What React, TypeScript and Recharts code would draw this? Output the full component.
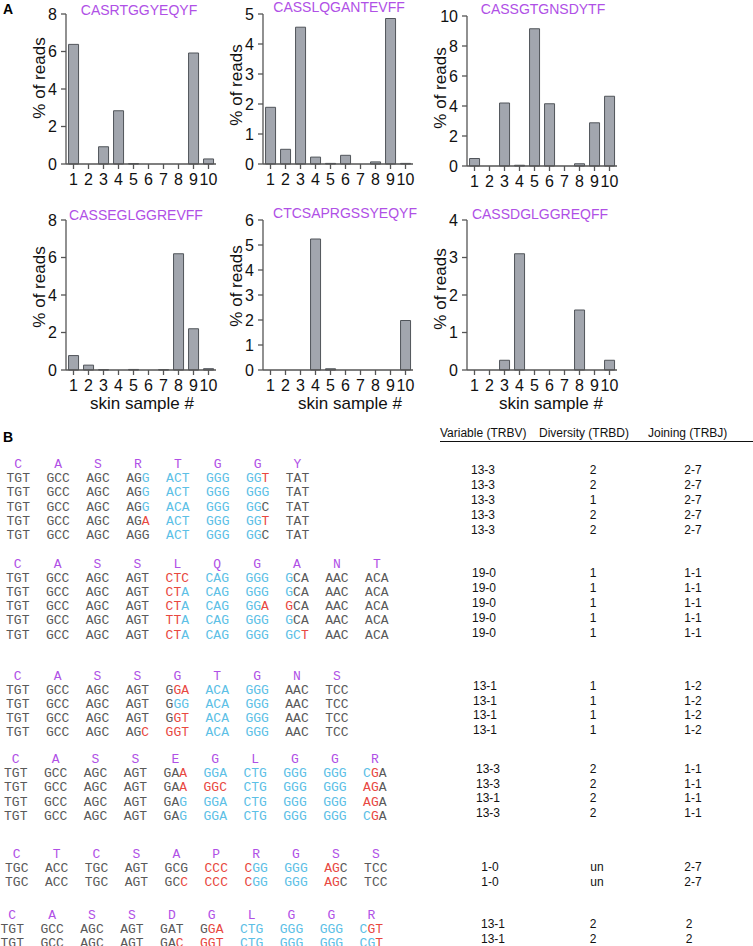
import React from 'react';
import { BarChart, Bar, XAxis, YAxis } from 'recharts';

// skin samples (x categories)
const SAMPLES = ['1', '2', '3', '4', '5', '6', '7', '8', '9', '10'];

// % of reads per skin sample, one array per clonotype
const CASRTGGYEQYF = [6.38, 0, 0.92, 2.84, 0.02, 0, 0, 0, 5.92, 0.27];
const CASSLQGANTEVFF = [1.89, 0.49, 4.56, 0.23, 0.02, 0.29, 0, 0.07, 4.85, 0.02];
const CASSGTGNSDYTF = [0.5, 0, 4.2, 0.05, 9.15, 4.15, 0, 0.15, 2.88, 4.65];
const CASSEGLGGREVFF = [0.77, 0.26, 0.02, 0, 0.03, 0, 0.02, 6.2, 2.2, 0.07];
const CTCSAPRGSSYEQYF = [0, 0, 0, 5.24, 0.05, 0, 0, 0, 0, 1.98];
const CASSDGLGGREQFF = [0, 0, 0.26, 3.1, 0, 0, 0, 1.6, 0, 0.26];

// section B: amino acids, codons and colour marks (k grey, b blue, r red)
const G1_AA = ['C', 'A', 'S', 'R', 'T', 'G', 'G', 'Y'];
const G1_ROWS = [
  ['TGT GCC AGC AGG ACT GGG GGT TAT', 'kkk kkk kkk kkb bbb bbb bbr kkk'],
  ['TGT GCC AGC AGG ACT GGG GGG TAT', 'kkk kkk kkk kkb bbb bbb bbb kkk'],
  ['TGT GCC AGC AGG ACA GGG GGC TAT', 'kkk kkk kkk kkb bbb bbb bbk kkk'],
  ['TGT GCC AGC AGA ACT GGG GGT TAT', 'kkk kkk kkk kkr bbb bbb bbr kkk'],
  ['TGT GCC AGC AGG ACT GGG GGC TAT', 'kkk kkk kkk kkk bbb bbb bbk kkk'],
];
const G2_AA = ['C', 'A', 'S', 'S', 'L', 'Q', 'G', 'A', 'N', 'T'];
const G2_ROWS = [
  ['TGT GCC AGC AGT CTC CAG GGG GCA AAC ACA', 'kkk kkk kkk kkk rrr bbb bbb bkk kkk kkk'],
  ['TGT GCC AGC AGT CTA CAG GGG GCA AAC ACA', 'kkk kkk kkk kkk rrb bbb bbb bkk kkk kkk'],
  ['TGT GCC AGC AGT CTA CAG GGA GCA AAC ACA', 'kkk kkk kkk kkk rrb bbb bbr rkk kkk kkk'],
  ['TGT GCC AGC AGT TTA CAG GGG GCA AAC ACA', 'kkk kkk kkk kkk rrb bbb bbb bkk kkk kkk'],
  ['TGT GCC AGC AGT CTA CAG GGG GCT AAC ACA', 'kkk kkk kkk kkk rrb bbb bbb bbr kkk kkk'],
];
const G3_AA = ['C', 'A', 'S', 'S', 'G', 'T', 'G', 'N', 'S'];
const G3_ROWS = [
  ['TGT GCC AGC AGT GGA ACA GGG AAC TCC', 'kkk kkk kkk kkk krr bbb bbb kkk kkk'],
  ['TGT GCC AGC AGT GGG ACA GGG AAC TCC', 'kkk kkk kkk kkk kbb bbb bbb kkk kkk'],
  ['TGT GCC AGC AGT GGT ACA GGG AAC TCC', 'kkk kkk kkk kkk krr bbb bbb kkk kkk'],
  ['TGT GCC AGC AGC GGT ACA GGG AAC TCC', 'kkk kkk kkk kkr rrr bbb bbb kkk kkk'],
];
const G4_AA = ['C', 'A', 'S', 'S', 'E', 'G', 'L', 'G', 'G', 'R'];
const G4_ROWS = [
  ['TGT GCC AGC AGT GAA GGA CTG GGG GGG CGA', 'kkk kkk kkk kkk kkr bbb bbb bbb bbb brk'],
  ['TGT GCC AGC AGT GAA GGC CTG GGG GGG AGA', 'kkk kkk kkk kkk kkr rrr bbb bbb bbb rrk'],
  ['TGT GCC AGC AGT GAG GGA CTG GGG GGG AGA', 'kkk kkk kkk kkk kkb bbb bbb bbb bbb rrk'],
  ['TGT GCC AGC AGT GAG GGA CTG GGG GGG CGA', 'kkk kkk kkk kkk kkb bbb bbb bbb bbb brk'],
];
const G5_AA = ['C', 'T', 'C', 'S', 'A', 'P', 'R', 'G', 'S', 'S'];
const G5_ROWS = [
  ['TGC ACC TGC AGT GCG CCC CGG GGG AGC TCC', 'kkk kkk kkk kkk kkk rrr rbb bbb rrk kkk'],
  ['TGC ACC TGC AGT GCC CCC CGG GGG AGC TCC', 'kkk kkk kkk kkk kkr rrr rbb bbb rrk kkk'],
];
const G6_AA = ['C', 'A', 'S', 'S', 'D', 'G', 'L', 'G', 'G', 'R'];
const G6_ROWS = [
  ['TGT GCC AGC AGT GAT GGA CTG GGG GGG CGT', 'kkk kkk kkk kkk kkk krr bbb bbb bbb brr'],
  ['TGT GCC AGC AGT GAC GGT CTG GGG GGG CGT', 'kkk kkk kkk kkk kkr rrr bbb bbb bbb bbr'],
];

// V / D / J gene usage per row
const G1_VDJ = [['13-3', '2', '2-7'], ['13-3', '2', '2-7'], ['13-3', '1', '2-7'], ['13-3', '2', '2-7'], ['13-3', '2', '2-7']];
const G2_VDJ = [['19-0', '1', '1-1'], ['19-0', '1', '1-1'], ['19-0', '1', '1-1'], ['19-0', '1', '1-1'], ['19-0', '1', '1-1']];
const G3_VDJ = [['13-1', '1', '1-2'], ['13-1', '1', '1-2'], ['13-1', '1', '1-2'], ['13-1', '1', '1-2']];
const G4_VDJ = [['13-3', '2', '1-1'], ['13-3', '2', '1-1'], ['13-1', '2', '1-1'], ['13-3', '2', '1-1']];
const G5_VDJ = [['1-0', 'un', '2-7'], ['1-0', 'un', '2-7']];
const G6_VDJ = [['13-1', '2', '2'], ['13-1', '2', '2']];

const SANS = '"Liberation Sans", Arial, sans-serif';
const MONO = '"Liberation Mono", "Courier New", monospace';
const PURPLE = '#b050e6';
const COLORS: Record<string, string> = { k: '#595959', b: '#5cc0e6', r: '#e8483f' };

const BAR_FILL = '#a2a6ae';
const BAR_STROKE = '#50545a';
const AXIS = '#555';

function ReadsChart({ values, ymax, ticks, left, top, labelDy, xLabelDx }: any) {
  const data = SAMPLES.map((s, i) => ({ s, v: values[i] }));
  return (
    <div style={{ position: 'absolute', left: left - 60, top: top - 20 }}>
      <BarChart width={220} height={220} data={data} margin={{ top: 20, right: 10, left: 8, bottom: 20 }} barCategoryGap="17%">
        <XAxis
          dataKey="s"
          interval={0}
          height={30}
          tickSize={5}
          tickMargin={5}
          tick={{ fontSize: 16, fill: '#111', fontFamily: SANS }}
          stroke={AXIS}
          strokeWidth={1.3}
          label={
            xLabelDx === undefined
              ? undefined
              : {
                  content: (p: any) => {
                    const vb = p.viewBox;
                    return (
                      <text x={vb.x + vb.width / 2 + xLabelDx} y={vb.y + 39} textAnchor="middle" fontSize={17} fontFamily={SANS} fill="#111">
                        skin sample #
                      </text>
                    );
                  },
                }
          }
        />
        <YAxis
          type="number"
          domain={[0, ymax]}
          ticks={ticks}
          interval={0}
          width={52}
          tickSize={5}
          tickMargin={4}
          tick={{ fontSize: 16, fill: '#111', fontFamily: SANS }}
          stroke={AXIS}
          strokeWidth={1.3}
          label={{
            content: (p: any) => {
              const vb = p.viewBox;
              const cx = vb.x + vb.width - 27;
              const cy = vb.y + vb.height / 2 + labelDy;
              return (
                <text x={cx} y={cy} transform={`rotate(-90 ${cx} ${cy})`} textAnchor="middle" dominantBaseline="central" fontSize={17} fontFamily={SANS} fill="#111">
                  % of reads
                </text>
              );
            },
          }}
        />
        <Bar dataKey="v" fill={BAR_FILL} stroke={BAR_STROKE} strokeWidth={1} isAnimationActive={false} />
      </BarChart>
    </div>
  );
}

function Codons({ aa, rows, x0, aaY }: any) {
  const step = 39.9;
  const rowStep = 14.2;
  return (
    <g fontFamily={MONO} fontSize={13}>
      {aa.map((a: string, i: number) => (
        <text key={'a' + i} x={x0 + i * step + 11.7} y={aaY + 4.5} textAnchor="middle" fill={PURPLE}>
          {a}
        </text>
      ))}
      {rows.map((r: string[], j: number) => {
        const cods = r[0].split(' ');
        const cols = r[1].split(' ');
        return cods.map((c, i) => (
          <text key={j + '-' + i} x={x0 + i * step} y={aaY + (j + 1) * rowStep + 4.5}>
            {c.split('').map((ch, k) => (
              <tspan key={k} fill={COLORS[cols[i][k]]}>
                {ch}
              </tspan>
            ))}
          </text>
        ));
      })}
    </g>
  );
}

function Genes({ rows, y0, vx, dx = 593, jx = 693 }: any) {
  return (
    <g fontFamily={SANS} fontSize={12} fill="#111" textAnchor="middle">
      {rows.map((r: string[], j: number) => (
        <g key={j}>
          <text x={vx} y={y0 + j * 14.8 + 4.3}>{r[0]}</text>
          <text x={dx} y={y0 + j * 14.8 + 4.3}>{r[1]}</text>
          <text x={jx} y={y0 + j * 14.8 + 4.3}>{r[2]}</text>
        </g>
      ))}
    </g>
  );
}

export default function App() {
  return (
    <div style={{ position: 'absolute', left: 0, top: 0, width: 753, height: 946, background: '#fff', overflow: 'hidden' }}>
      <ReadsChart values={CASRTGGYEQYF} ymax={8} ticks={[0, 2, 4, 6, 8]} left={66} top={14} labelDy={-11} />
      <ReadsChart values={CASSLQGANTEVFF} ymax={5} ticks={[0, 1, 2, 3, 4, 5]} left={263} top={14} labelDy={-4} />
      <ReadsChart values={CASSGTGNSDYTF} ymax={10} ticks={[0, 2, 4, 6, 8, 10]} left={467} top={16} labelDy={-3} />
      <ReadsChart values={CASSEGLGGREVFF} ymax={8} ticks={[0, 2, 4, 6, 8]} left={66} top={220} labelDy={-8} xLabelDx={1} />
      <ReadsChart values={CTCSAPRGSSYEQYF} ymax={6} ticks={[0, 1, 2, 3, 4, 5, 6]} left={263} top={220} labelDy={-9} xLabelDx={12} />
      <ReadsChart values={CASSDGLGGREQFF} ymax={4} ticks={[0, 1, 2, 3, 4]} left={467} top={220} labelDy={-6} xLabelDx={9} />

      <svg width={753} height={946} style={{ position: 'absolute', left: 0, top: 0, pointerEvents: 'none' }}>
        <text x={3} y={14} fontFamily={SANS} fontWeight="bold" fontSize={14} fill="#000">A</text>
        <g fontFamily={SANS} fontSize={14} fill={PURPLE} textAnchor="middle">
          <text x={139} y={15}>CASRTGGYEQYF</text>
          <text x={339} y={12}>CASSLQGANTEVFF</text>
          <text x={543} y={14}>CASSGTGNSDYTF</text>
          <text x={136} y={220}>CASSEGLGGREVFF</text>
          <text x={345} y={218}>CTCSAPRGSSYEQYF</text>
          <text x={540} y={219}>CASSDGLGGREQFF</text>
        </g>

        <text x={3} y={442} fontFamily={SANS} fontWeight="bold" fontSize={14} fill="#000">B</text>
        <g fontFamily={SANS} fontSize={12} fill="#111">
          <text x={440} y={437}>Variable (TRBV)</text>
          <text x={539} y={437}>Diversity (TRBD)</text>
          <text x={648} y={437}>Joining (TRBJ)</text>
        </g>
        <line x1={440} x2={753} y1={441.5} y2={441.5} stroke="#111" strokeWidth={1} />

        <Codons aa={G1_AA} rows={G1_ROWS} x0={6.5} aaY={463.5} />
        <Codons aa={G2_AA} rows={G2_ROWS} x0={6} aaY={563} />
        <Codons aa={G3_AA} rows={G3_ROWS} x0={6} aaY={675} />
        <Codons aa={G4_AA} rows={G4_ROWS} x0={4} aaY={758.5} />
        <Codons aa={G5_AA} rows={G5_ROWS} x0={5} aaY={853.5} />
        <Codons aa={G6_AA} rows={G6_ROWS} x0={0.5} aaY={914} />

        <Genes rows={G1_VDJ} y0={470} vx={483} />
        <Genes rows={G2_VDJ} y0={573} vx={484} />
        <Genes rows={G3_VDJ} y0={685.5} vx={485} />
        <Genes rows={G4_VDJ} y0={768.5} vx={488} />
        <Genes rows={G5_VDJ} y0={866.5} vx={490} dx={597} />
        <Genes rows={G6_VDJ} y0={923.5} vx={493} jx={689} />
      </svg>
    </div>
  );
}
